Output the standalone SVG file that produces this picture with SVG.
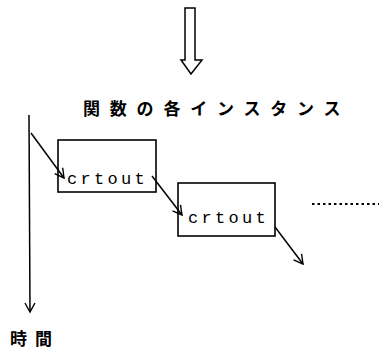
<svg xmlns="http://www.w3.org/2000/svg" width="379" height="352" viewBox="0 0 379 352">
<defs>
<style>
.ln{stroke:#000;stroke-width:1.5;fill:none}
.box{stroke:#000;stroke-width:1.6;fill:#fff}
.jp{font-family:"Noto Sans CJK JP","Noto Sans CJK SC",sans-serif;font-weight:bold;font-size:17px;fill:#000}
.mono{font-family:"Liberation Mono","DejaVu Sans Mono",monospace;font-size:17px;fill:#000;letter-spacing:3.3px}
</style>
<marker id="v" markerWidth="12" markerHeight="12" refX="10" refY="6" orient="auto" markerUnits="userSpaceOnUse">
<path d="M1,1 L10,6 L1,11" fill="none" stroke="#000" stroke-width="1.4"/>
</marker>
</defs>
<rect width="379" height="352" fill="#fff"/>
<g id="bigarrow">
<path class="ln" d="M185,8 L195,8 L195,60 L202,60 L191,74 L181,60 L185,60 Z"/>
</g>
<g id="title">
<text class="jp" x="83" y="115" letter-spacing="9.8">関数の各インスタンス</text>
</g>
<g id="timeaxis">
<line class="ln" x1="29" y1="115" x2="30" y2="312" marker-end="url(#v)"/>
<text class="jp" x="10" y="345" letter-spacing="8">時間</text>
</g>
<g id="node1">
<rect class="box" x="58" y="140" width="98" height="52"/>
<text class="mono" x="67" y="184">crtout</text>
</g>
<g id="node2">
<rect class="box" x="178" y="183" width="97" height="53"/>
<text class="mono" x="188" y="223">crtout</text>
</g>
<g id="connectors">
<line class="ln" x1="31" y1="133" x2="64" y2="178" marker-end="url(#v)"/>
<line class="ln" x1="152" y1="176" x2="182" y2="215" marker-end="url(#v)"/>
<line class="ln" x1="275" y1="227" x2="303" y2="264" marker-end="url(#v)"/>
<line x1="312" y1="204" x2="379" y2="204" stroke="#000" stroke-width="2" stroke-dasharray="2.5,3"/>
</g>
</svg>
